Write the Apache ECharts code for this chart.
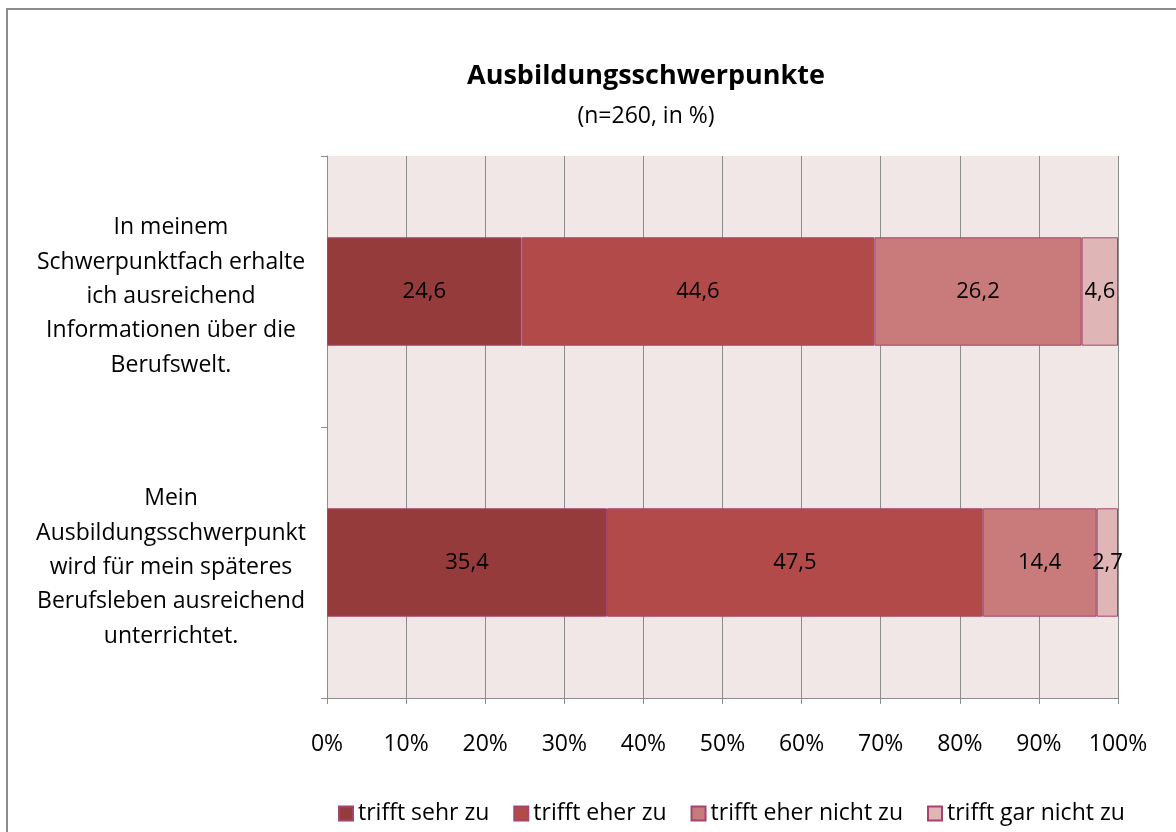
<!DOCTYPE html>
<html>
<head>
<meta charset="utf-8">
<script src="https://cdn.jsdelivr.net/npm/echarts@6/dist/echarts.min.js"></script>
<style>
  html, body { margin: 0; padding: 0; background: #fff; }
  #chart { width: 1176px; height: 832px; }
</style>
</head>
<body>
<div id="chart"></div>
<script>
// categories (top to bottom)
var categories = [
    'In meinem\nSchwerpunktfach erhalte\nich ausreichend\nInformationen über die\nBerufswelt.',
    'Mein\nAusbildungsschwerpunkt\nwird für mein späteres\nBerufsleben ausreichend\nunterrichtet.'
];
var seriesNames = ['trifft sehr zu', 'trifft eher zu', 'trifft eher nicht zu', 'trifft gar nicht zu'];
var sehrZu = [24.6, 35.4];
var eherZu = [44.6, 47.5];
var eherNicht = [26.2, 14.4];
var garNicht = [4.6, 2.7];
var colors = ['#953b3b', '#b34a4a', '#c97b7b', '#dfb5b5'];

var fontFam = '"Open Sans", Lato, sans-serif';
var allData = [sehrZu, eherZu, eherNicht, garNicht];

var series = allData.map(function (d, i) {
    return {
        name: seriesNames[i],
        type: 'bar',
        stack: 'total',
        barWidth: '40%',
        data: d,
        itemStyle: { color: colors[i], borderColor: '#a3456f', borderWidth: 1 },
        label: {
            show: true,
            position: 'inside',
            color: '#000',
            fontSize: 22,
            fontFamily: fontFam,
            formatter: function (p) { return String(p.value).replace('.', ','); }
        }
    };
});

var chart = echarts.init(document.getElementById('chart'));
var option = {
    animation: false,
    backgroundColor: '#fff',
    color: colors,
    title: {
        text: 'Ausbildungsschwerpunkte',
        subtext: '(n=260, in %)',
        left: 641,
        textAlign: 'center',
        top: 58,
        itemGap: 15,
        textStyle: { fontSize: 27, fontWeight: 'bold', color: '#000', fontFamily: fontFam },
        subtextStyle: { fontSize: 23, color: '#000', fontFamily: fontFam }
    },
    legend: {
        data: seriesNames,
        left: 333,
        top: 797,
        icon: 'rect',
        itemWidth: 14,
        itemHeight: 14,
        itemGap: 24,
        textStyle: { fontSize: 23, color: '#000', fontFamily: fontFam }
    },
    grid: {
        left: 327,
        top: 156,
        width: 791,
        height: 542,
        show: true,
        backgroundColor: '#f2e7e7',
        borderWidth: 0
    },
    xAxis: {
        type: 'value',
        min: 0,
        max: 100,
        interval: 10,
        axisLine: { show: true, lineStyle: { color: '#8c8c8c' } },
        axisTick: { show: true, length: 6, lineStyle: { color: '#8c8c8c' } },
        splitLine: { show: true, lineStyle: { color: '#8c8c8c' } },
        axisLabel: {
            formatter: '{value}%',
            fontSize: 23,
            color: '#000',
            fontFamily: fontFam,
            margin: 35
        }
    },
    yAxis: {
        type: 'category',
        data: categories,
        inverse: true,
        axisLine: { show: true, lineStyle: { color: '#8c8c8c' } },
        axisTick: { show: true, length: 6, lineStyle: { color: '#8c8c8c' } },
        axisLabel: {
            align: 'center',
            margin: 156,
            color: '#000',
            fontFamily: fontFam,
            formatter: function (v) {
                // small empty first line pushes the block down a little
                return '{s|}\n' + v.split('\n').map(function (l) { return '{a|' + l + '}'; }).join('\n');
            },
            rich: {
                s: { lineHeight: 10, fontSize: 10 },
                a: { fontSize: 23, lineHeight: 34.3, fontFamily: fontFam, color: '#000' }
            }
        }
    },
    graphic: [{
        type: 'rect',
        shape: { x: 7, y: 9, width: 1200, height: 900 },
        style: { fill: 'none', stroke: '#8c8c8c', lineWidth: 2 },
        silent: true
    }],
    series: series
};
chart.setOption(option);
</script>
</body>
</html>
